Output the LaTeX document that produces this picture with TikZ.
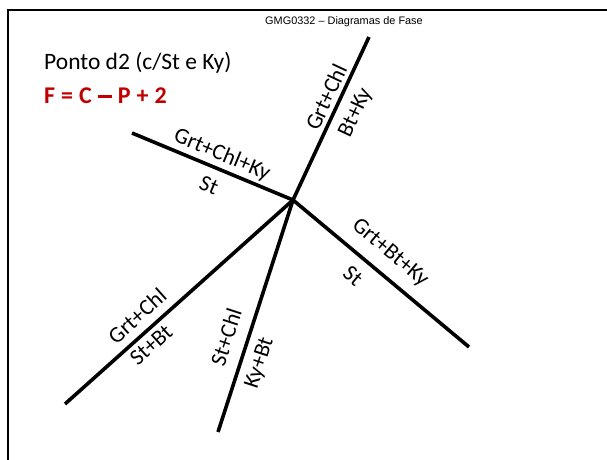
\documentclass[tikz,border=0pt]{standalone}
\usepackage{fontspec}
\setmainfont{Carlito}
\newfontfamily\hdrfont{Liberation Sans}
\definecolor{fred}{RGB}{192,0,0}
\newcommand{\eqsp}{\hspace{6pt}}
\newcommand{\eqdash}{\rule[6.2pt]{14pt}{2.8pt}}
\begin{document}
\begin{tikzpicture}[x=1pt,y=-1pt,
  phase/.style={line width=3.6pt},
  lbl/.style={font=\fontsize{22.5}{22.5}\selectfont, inner sep=0pt},
  frame/.style={line width=2.6pt}]
\useasboundingbox (0,0) rectangle (607,459);
% frame
\coordinate (fbl) at (8,470);
\coordinate (ftl) at (8,10);
\coordinate (ftr) at (620,10);
\draw[frame] (fbl) -- (ftl) -- (ftr);
% header texts
\node[font=\hdrfont\fontsize{10.9}{11}\selectfont, inner sep=0pt] (hdr) at (344,22) {GMG0332 – Diagramas de Fase};
\node[anchor=west, font=\fontsize{23.5}{24}\selectfont, inner sep=0pt] (ttl) at (44,63) {Ponto d2 (c/St e Ky)};
\node[anchor=west, font=\bfseries\fontsize{24}{24}\selectfont, text=fred, inner sep=0pt] (eq) at (44,96) {F\eqsp=\eqsp C\eqsp\eqdash\eqsp P\eqsp+\eqsp 2};
% invariant point and reaction endpoints
\coordinate (c) at (293,200);
\coordinate (eTop) at (369,37);
\coordinate (eLeft) at (132,133);
\coordinate (eRight) at (469,347);
\coordinate (eLL) at (65,404);
\coordinate (eLow) at (218,432);
\draw[phase, line cap=butt] (c) -- (eTop);
\draw[phase] (c) -- (eLeft);
\draw[phase] (c) -- (eRight);
\draw[phase] (c) -- (eLL);
\draw[phase] (c) -- (eLow);
% labels
\node[lbl, rotate=65] (t1) at (326,97) {Grt+Chl};
\node[lbl, rotate=65] (t2) at (356,113) {Bt+Ky};
\node[lbl, rotate=-22.6] (l1) at (222,155) {Grt+Chl+Ky};
\node[lbl, rotate=-22.6] (l2) at (209,185) {St};
\node[lbl, rotate=-39.9] (r1) at (390,253) {Grt+Bt+Ky};
\node[lbl, rotate=-39.9] (r2) at (353,276) {St};
\node[lbl, rotate=42] (ll1) at (137,316) {Grt+Chl};
\node[lbl, rotate=42] (ll2) at (151,345) {St+Bt};
\node[lbl, rotate=72] (lo1) at (226,337) {St+Chl};
\node[lbl, rotate=72] (lo2) at (260,363) {Ky+Bt};
\end{tikzpicture}
\end{document}
